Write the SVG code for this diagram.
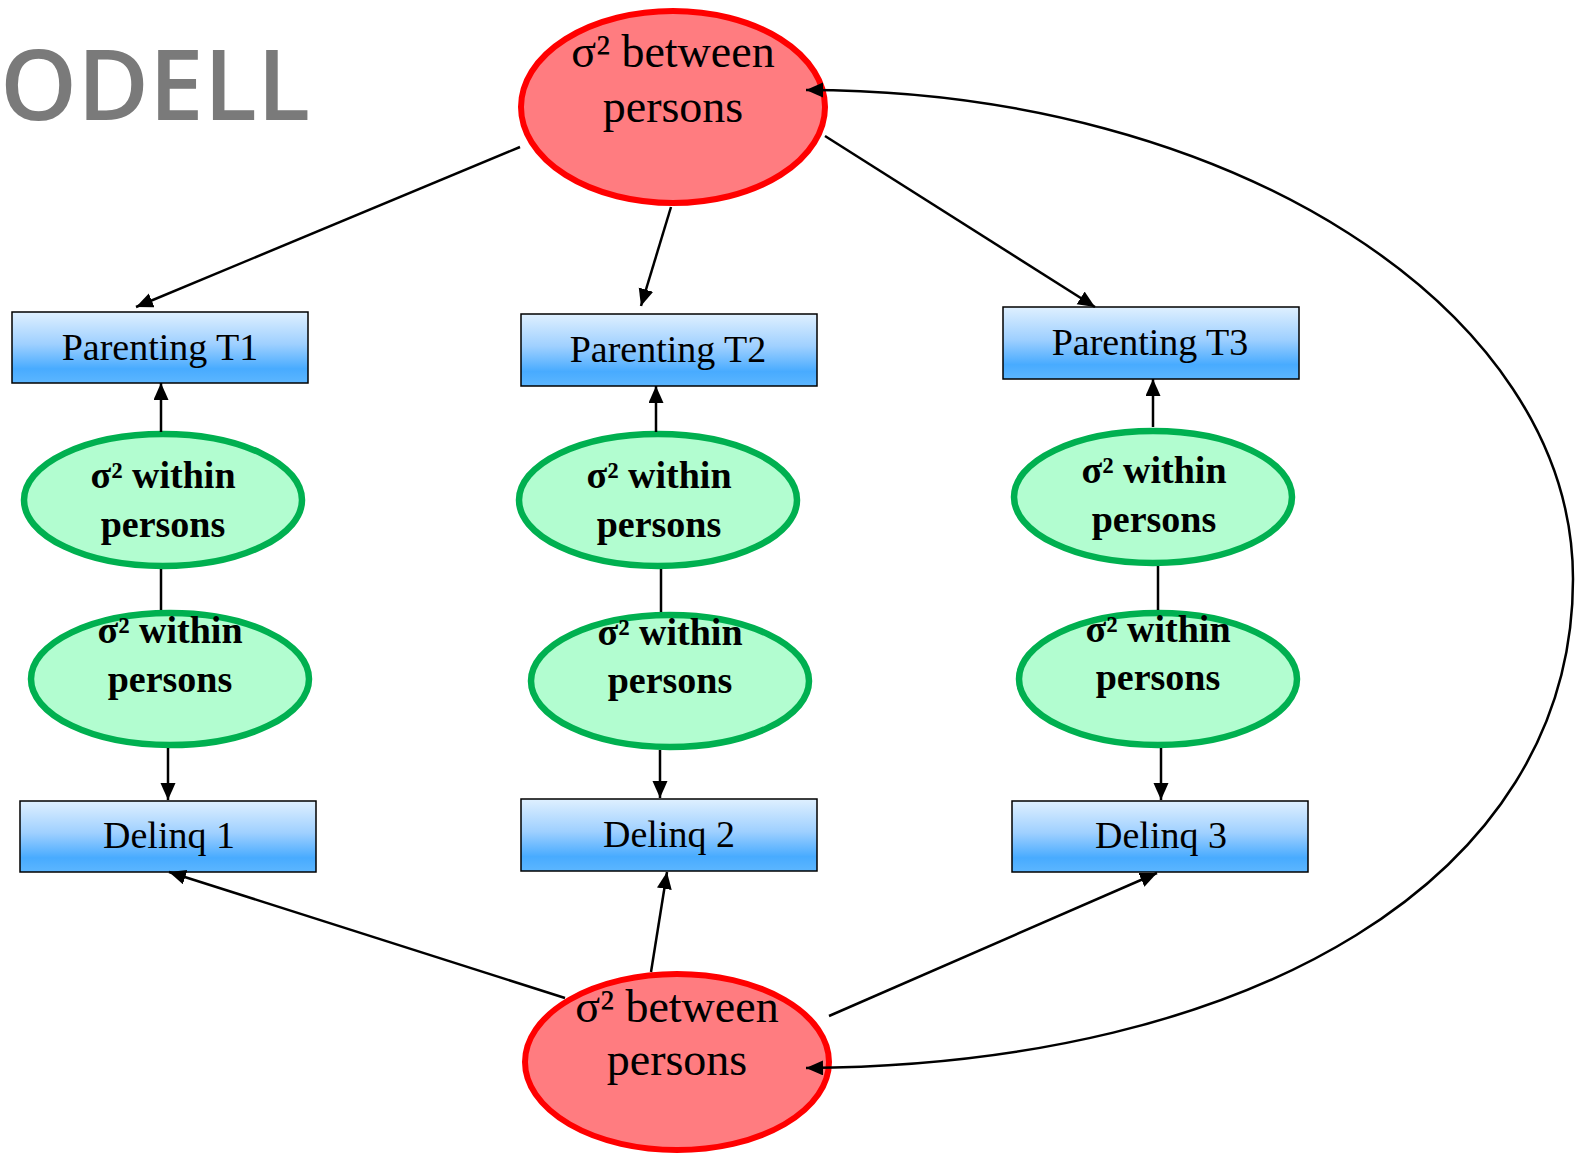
<svg xmlns="http://www.w3.org/2000/svg" width="1578" height="1153" viewBox="0 0 1578 1153">
<style>
.title{font-family:"Open Sans","Liberation Sans",sans-serif;font-weight:600;font-size:98px;fill:#7a7a7a}
.red{fill:#ff7c80;stroke:#ff0000;stroke-width:6}
.green{fill:#b2fdd0;stroke:#00b050;stroke-width:6.5}
.box{fill:url(#blue);stroke:#000;stroke-width:1.5}
.t{font-family:"Liberation Serif","Times New Roman",serif;fill:#000;text-anchor:middle}
.tr{font-size:46px}
.tg{font-size:38px;font-weight:bold}
.tb{font-size:38px}
.c{fill:none;stroke:#000;stroke-width:2.5}
.a{marker-end:url(#ah)}
</style>
<defs>
<linearGradient id="blue" x1="0" y1="0" x2="0" y2="1">
<stop offset="0" stop-color="#dff0ff"/>
<stop offset="0.45" stop-color="#9fd0ff"/>
<stop offset="0.8" stop-color="#48abff"/>
<stop offset="1" stop-color="#5cb6ff"/>
</linearGradient>
<marker id="ah" markerUnits="userSpaceOnUse" markerWidth="18" markerHeight="16" refX="17" refY="7.5" orient="auto-start-reverse" viewBox="0 0 18 16">
<path d="M0,0 L17,7.5 L0,15 z" fill="#000"/>
</marker>
</defs>
<text class="title" x="0" y="120">ODELL</text>
<g id="between-top">
<ellipse class="red" cx="673" cy="107" rx="152" ry="96"/>
<text class="t tr" x="673" y="67">σ² between</text>
<text class="t tr" x="673" y="122">persons</text>
</g>
<g id="between-bottom">
<ellipse class="red" cx="677" cy="1062" rx="152" ry="88"/>
<text class="t tr" x="677" y="1022">σ² between</text>
<text class="t tr" x="677" y="1075">persons</text>
</g>
<g id="parenting-t1">
<rect class="box" x="12" y="312" width="296" height="71"/>
<text class="t tb" x="160" y="360">Parenting T1</text>
</g>
<g id="parenting-t2">
<rect class="box" x="521" y="314" width="296" height="72"/>
<text class="t tb" x="668" y="362">Parenting T2</text>
</g>
<g id="parenting-t3">
<rect class="box" x="1003" y="307" width="296" height="72"/>
<text class="t tb" x="1150" y="355">Parenting T3</text>
</g>
<g id="within-p1">
<ellipse class="green" cx="163" cy="500" rx="139" ry="66"/>
<text class="t tg" x="163" y="488">σ² within</text>
<text class="t tg" x="163" y="537">persons</text>
</g>
<g id="within-p2">
<ellipse class="green" cx="658" cy="500" rx="139" ry="66"/>
<text class="t tg" x="659" y="488">σ² within</text>
<text class="t tg" x="659" y="537">persons</text>
</g>
<g id="within-p3">
<ellipse class="green" cx="1153" cy="497" rx="139" ry="66"/>
<text class="t tg" x="1154" y="483">σ² within</text>
<text class="t tg" x="1154" y="532">persons</text>
</g>
<g id="within-d1">
<ellipse class="green" cx="170" cy="679" rx="139" ry="66"/>
<text class="t tg" x="170" y="643">σ² within</text>
<text class="t tg" x="170" y="692">persons</text>
</g>
<g id="within-d2">
<ellipse class="green" cx="670" cy="681" rx="139" ry="66"/>
<text class="t tg" x="670" y="645">σ² within</text>
<text class="t tg" x="670" y="693">persons</text>
</g>
<g id="within-d3">
<ellipse class="green" cx="1158" cy="679" rx="139" ry="66"/>
<text class="t tg" x="1158" y="642">σ² within</text>
<text class="t tg" x="1158" y="690">persons</text>
</g>
<g id="delinq-1">
<rect class="box" x="20" y="801" width="296" height="71"/>
<text class="t tb" x="169" y="848">Delinq 1</text>
</g>
<g id="delinq-2">
<rect class="box" x="521" y="799" width="296" height="72"/>
<text class="t tb" x="669" y="847">Delinq 2</text>
</g>
<g id="delinq-3">
<rect class="box" x="1012" y="801" width="296" height="71"/>
<text class="t tb" x="1161" y="848">Delinq 3</text>
</g>
<g id="connectors">
<line class="c a" x1="520" y1="147" x2="136" y2="307"/>
<line class="c a" x1="671" y1="207" x2="641" y2="306"/>
<line class="c a" x1="825" y1="136" x2="1095" y2="307"/>
<path class="c" d="M806,90 C1230,90 1573,309 1573,579 C1573,880 1250,1065 806,1068" marker-start="url(#ah)" marker-end="url(#ah)"/>
<line class="c a" x1="161" y1="432" x2="161" y2="383"/>
<line class="c a" x1="656" y1="432" x2="656" y2="386"/>
<line class="c a" x1="1153" y1="427" x2="1153" y2="379"/>
<line class="c" x1="161" y1="569" x2="161" y2="610"/>
<line class="c" x1="661" y1="569" x2="661" y2="612"/>
<line class="c" x1="1158" y1="566" x2="1158" y2="610"/>
<line class="c a" x1="168" y1="748" x2="168" y2="800"/>
<line class="c a" x1="660" y1="750" x2="660" y2="798"/>
<line class="c a" x1="1161" y1="748" x2="1161" y2="800"/>
<line class="c a" x1="565" y1="998" x2="169" y2="872"/>
<line class="c a" x1="651" y1="972" x2="667" y2="872"/>
<line class="c a" x1="829" y1="1016" x2="1157" y2="873"/>
</g>
</svg>
